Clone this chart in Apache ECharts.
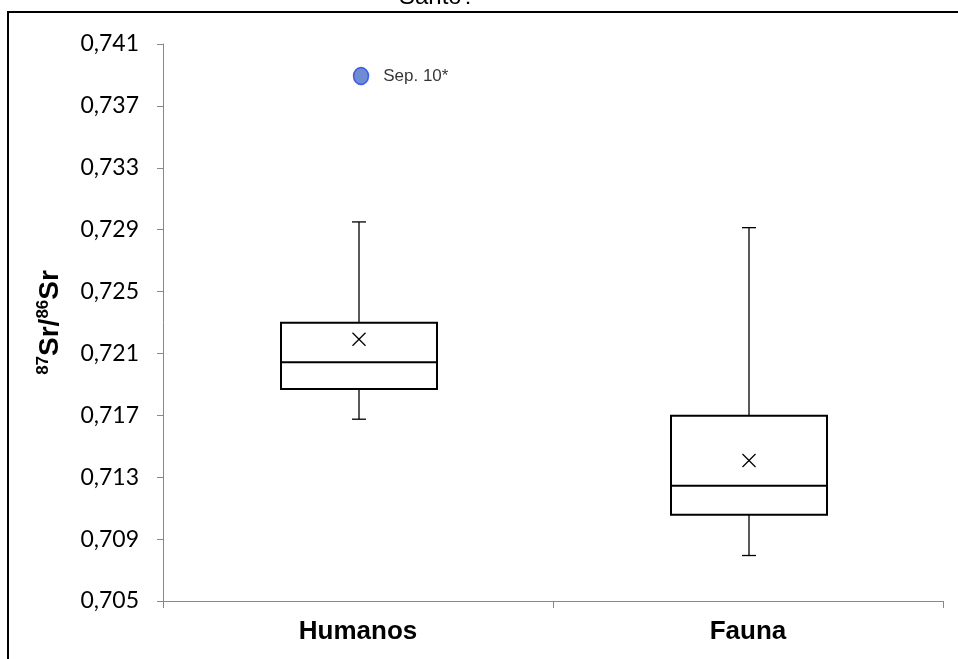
<!DOCTYPE html>
<html>
<head>
<meta charset="utf-8">
<script src="https://cdn.jsdelivr.net/npm/echarts@6/dist/echarts.min.js"></script>
<style>html,body{margin:0;padding:0;background:#fff;}#c{width:958px;height:659px;}</style>
</head>
<body>
<div id="c"></div>
<script>
const categories = ['Humanos', 'Fauna'];
// [min, Q1, median, Q3, max]
const boxMin = [0.71675, 0.70794];
const boxQ1 = [0.71871, 0.71057];
const boxMedian = [0.72043, 0.71245];
const boxQ3 = [0.72299, 0.71697];
const boxMax = [0.72950, 0.72913];
const boxMean = [0.72192, 0.71408];
const outlierCategory = ['Humanos'];
const outlierValue = [0.73893];
const outlierLabel = ['Sep. 10*'];
const yTickMin = 0.705, yTickMax = 0.741, yTickStep = 0.004;
const titleText = 'Santo?';

// axis works in thousandths above the base tick so ticks start exactly at the base
const toAxis = v => (v - yTickMin) * 1000;

const boxData = categories.map((c, i) => [i, toAxis(boxMin[i]), toAxis(boxQ1[i]), toAxis(boxMedian[i]), toAxis(boxQ3[i]), toAxis(boxMax[i]), toAxis(boxMean[i])]);
const outData = outlierCategory.map((c, i) => ({value: [categories.indexOf(c), toAxis(outlierValue[i])], name: outlierLabel[i]}));

const chart = echarts.init(document.getElementById('c'));
chart.setOption({
  backgroundColor: '#fff',
  animation: false,
  grid: {left: 163, right: 15, top: 44, bottom: 58},
  graphic: [
    {type: 'rect', shape: {x: 8, y: 12, width: 1000, height: 700}, style: {fill: 'none', stroke: '#000', lineWidth: 2}, z: -1},
    {type: 'text', x: 437, y: 9, style: {text: titleText, font: '24px "Liberation Sans", Arial, sans-serif', fill: '#000', align: 'center', verticalAlign: 'bottom'}}
  ],
  xAxis: {
    type: 'category', data: categories,
    axisLine: {lineStyle: {color: '#888', width: 1}},
    axisTick: {show: true, length: 7, lineStyle: {color: '#888'}},
    axisLabel: {fontFamily: '"Liberation Sans", Arial, sans-serif', fontWeight: 'bold', fontSize: 26, color: '#000', margin: 18}
  },
  yAxis: {
    type: 'value', min: 0, max: toAxis(yTickMax), interval: yTickStep * 1000,
    splitLine: {show: false},
    axisLine: {show: true, lineStyle: {color: '#888'}},
    axisTick: {show: true, length: 6, lineStyle: {color: '#888'}},
    axisLabel: {fontFamily: 'Lato, "Open Sans", sans-serif', fontSize: 23, color: '#000', margin: 24,
      formatter: v => (yTickMin + v / 1000).toFixed(3).replace('.', ',')},
    name: '{sup|87}{a|Sr/}{sup|86}{a|Sr}',
    nameLocation: 'middle', nameRotate: 90, nameGap: 98,
    nameTextStyle: {rich: {
      a: {fontFamily: 'Arial, "Liberation Sans", sans-serif', fontWeight: 'bold', fontSize: 28, color: '#000', lineHeight: 30},
      sup: {fontFamily: 'Arial, "Liberation Sans", sans-serif', fontWeight: 'bold', fontSize: 17, color: '#000', verticalAlign: 'top', lineHeight: 30}
    }}
  },
  series: [
    {
      type: 'custom',
      data: boxData,
      renderItem: function (params, api) {
        const x = api.value(0);
        const pMin = api.coord([x, api.value(1)]);
        const pQ1 = api.coord([x, api.value(2)]);
        const pMed = api.coord([x, api.value(3)]);
        const pQ3 = api.coord([x, api.value(4)]);
        const pMax = api.coord([x, api.value(5)]);
        const pMean = api.coord([x, api.value(6)]);
        const w = api.size([1, 0])[0] * 0.4;
        const cx = pMed[0] + 1;
        const cap = 7, xs = 6.5;
        const thin = {stroke: '#000', lineWidth: 1.3};
        const thick = {stroke: '#000', lineWidth: 2};
        return {type: 'group', children: [
          {type: 'line', shape: {x1: cx, y1: pMax[1], x2: cx, y2: pQ3[1]}, style: thin},
          {type: 'line', shape: {x1: cx - cap, y1: pMax[1], x2: cx + cap, y2: pMax[1]}, style: thin},
          {type: 'line', shape: {x1: cx, y1: pQ1[1], x2: cx, y2: pMin[1]}, style: thin},
          {type: 'line', shape: {x1: cx - cap, y1: pMin[1], x2: cx + cap, y2: pMin[1]}, style: thin},
          {type: 'rect', shape: {x: cx - w / 2, y: pQ3[1], width: w, height: pQ1[1] - pQ3[1]}, style: {fill: '#fff', stroke: '#000', lineWidth: 2}},
          {type: 'line', shape: {x1: cx - w / 2, y1: pMed[1], x2: cx + w / 2, y2: pMed[1]}, style: thick},
          {type: 'line', shape: {x1: cx - xs, y1: pMean[1] - xs, x2: cx + xs, y2: pMean[1] + xs}, style: {stroke: '#000', lineWidth: 1.2}},
          {type: 'line', shape: {x1: cx - xs, y1: pMean[1] + xs, x2: cx + xs, y2: pMean[1] - xs}, style: {stroke: '#000', lineWidth: 1.2}}
        ]};
      }
    },
    {
      type: 'scatter',
      data: outData,
      symbol: 'circle', symbolSize: [15, 17], symbolOffset: [3, 0],
      itemStyle: {color: '#4a6fc6', borderColor: '#1f3bff', borderWidth: 1.5},
      label: {show: true, position: 'right', distance: 14, formatter: p => p.name,
        fontFamily: 'Arial, "Liberation Sans", sans-serif', fontSize: 17, color: '#000'}
    }
  ]
});
</script>
</body>
</html>
